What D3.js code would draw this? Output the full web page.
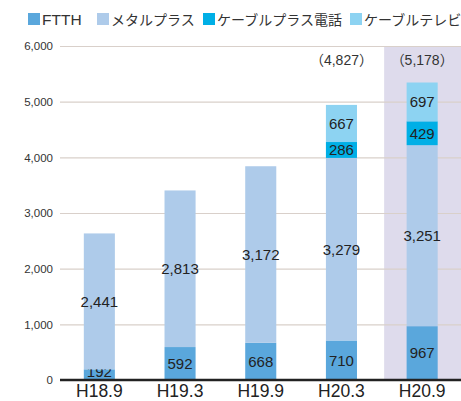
<!DOCTYPE html>
<html>
<head>
<meta charset="utf-8">
<script src="https://cdn.jsdelivr.net/npm/d3@7"></script>
<style>
  body { margin: 0; background: #fff; }
  text { font-family: "Liberation Sans", Arial, "Noto Sans CJK JP", sans-serif; }
</style>
</head>
<body>
<div class="chart"></div>
<script>
// data
const periods = ["H18.9", "H19.3", "H19.9", "H20.3", "H20.9"];
const seriesNames = ["FTTH", "メタルプラス", "ケーブルプラス電話", "ケーブルテレビ"];
const ftth = [192, 592, 668, 710, 967];
const metal = [2441, 2813, 3172, 3279, 3251];
const cablePhone = [0, 0, 0, 286, 429];
const cableTv = [0, 0, 0, 667, 697];
const totalLabels = ["", "", "", "（4,827）", "（5,178）"];
const yTicks = [0, 1000, 2000, 3000, 4000, 5000, 6000];
const colors = ["#5aa7dc", "#aecbea", "#00afe6", "#8dd3f2"];

const rows = periods.map(function(p, i) {
  return {period: p, FTTH: ftth[i], "メタルプラス": metal[i],
    "ケーブルプラス電話": cablePhone[i], "ケーブルテレビ": cableTv[i], total: totalLabels[i]};
});

svgwidth = 461;
svgheight = 401;
margin = {top: 46, right: 0, bottom: 21, left: 60};
mywidth = svgwidth - margin.left - margin.right;
myheight = svgheight - margin.top - margin.bottom;

const root = d3.select(".chart").append("svg")
  .attr("width", svgwidth)
  .attr("height", svgheight);
svg = root.append("g")
  .attr("transform", "translate(" + margin.left + "," + margin.top + ")");

posX = d3.scaleBand()
  .domain(periods)
  .range([-1, mywidth + 1.5])
  .paddingInner(0.615)
  .paddingOuter(0.3075);
posY = d3.scaleLinear()
  .domain([0, 6000])
  .range([myheight, 0]);

// highlight behind the last period
const last = periods[periods.length - 1];
svg.append("rect")
  .attr("x", posX(last) + posX.bandwidth() / 2 - 38)
  .attr("y", posY(6000))
  .attr("width", 80)
  .attr("height", posY(0) - posY(6000))
  .attr("fill", "#dedbec");

// gridlines + tick labels
svg.append("g")
  .attr("class", "axis axis--y")
  .call(d3.axisLeft(posY).tickValues(yTicks).tickFormat(d3.format(",")).tickSize(-mywidth).tickPadding(7))
  .call(g => g.select(".domain").remove())
  .call(g => g.selectAll(".tick line").attr("stroke", "#d9d0ca").attr("stroke-width", 1.2))
  .call(g => g.selectAll(".tick text").attr("fill", "#333").attr("font-size", "11.5px")
    .attr("font-family", "Liberation Sans, Arial, sans-serif"));

// stacked bars
const stacked = d3.stack().keys(seriesNames)(rows);
const layers = svg.selectAll(".layer")
  .data(stacked)
  .enter().append("g")
    .attr("class", "layer")
    .attr("fill", (d, i) => colors[i]);

layers.selectAll("rect")
  .data(d => d.filter(s => s[1] - s[0] > 0))
  .enter().append("rect")
    .attr("x", d => posX(d.data.period))
    .attr("y", d => posY(d[1]))
    .attr("width", posX.bandwidth())
    .attr("height", d => posY(d[0]) - posY(d[1]));

layers.selectAll("text")
  .data(d => d.filter(s => s[1] - s[0] > 0))
  .enter().append("text")
    .attr("x", d => posX(d.data.period) + posX.bandwidth() / 2)
    .attr("y", d => Math.min(posY((d[0] + d[1]) / 2), posY(0) - 8))
    .attr("dy", "0.36em")
    .attr("text-anchor", "middle")
    .attr("font-size", "15px")
    .attr("fill", "#222")
    .text(d => d3.format(",")(d[1] - d[0]));

// totals in brackets
svg.selectAll(".total")
  .data(rows)
  .enter().append("text")
    .attr("class", "total")
    .attr("x", d => posX(d.period) + posX.bandwidth() / 2)
    .attr("y", 19)
    .attr("text-anchor", "middle")
    .attr("font-size", "14px")
    .attr("font-family", "Liberation Sans, Noto Sans CJK JP, sans-serif")
    .attr("fill", "#333")
    .text(d => d.total);

// x axis
svg.append("g")
  .attr("class", "axis axis--x")
  .attr("transform", "translate(0," + myheight + ")")
  .call(d3.axisBottom(posX).tickSize(0).tickPadding(5))
  .call(g => g.select(".domain").attr("stroke", "#222").attr("stroke-width", 2.5).attr("d", "M0,0H" + (mywidth + 2)))
  .call(g => g.selectAll(".tick text").attr("fill", "#222").attr("font-size", "17.5px")
    .attr("font-family", "Liberation Sans, Arial, sans-serif"));

// legend
const legendX = [28, 97, 203, 350];
const legend = root.selectAll(".legend")
  .data(seriesNames)
  .enter().append("g")
    .attr("class", "legend")
    .attr("transform", (d, i) => "translate(" + legendX[i] + ",13)");
legend.append("rect")
  .attr("width", 12)
  .attr("height", 12)
  .attr("fill", (d, i) => colors[i]);
legend.append("text")
  .attr("x", 14)
  .attr("y", 11.5)
  .attr("font-size", (d, i) => i == 0 ? "15.5px" : "14px")
  .attr("fill", "#333")
  .text(d => d);
</script>
</body>
</html>
